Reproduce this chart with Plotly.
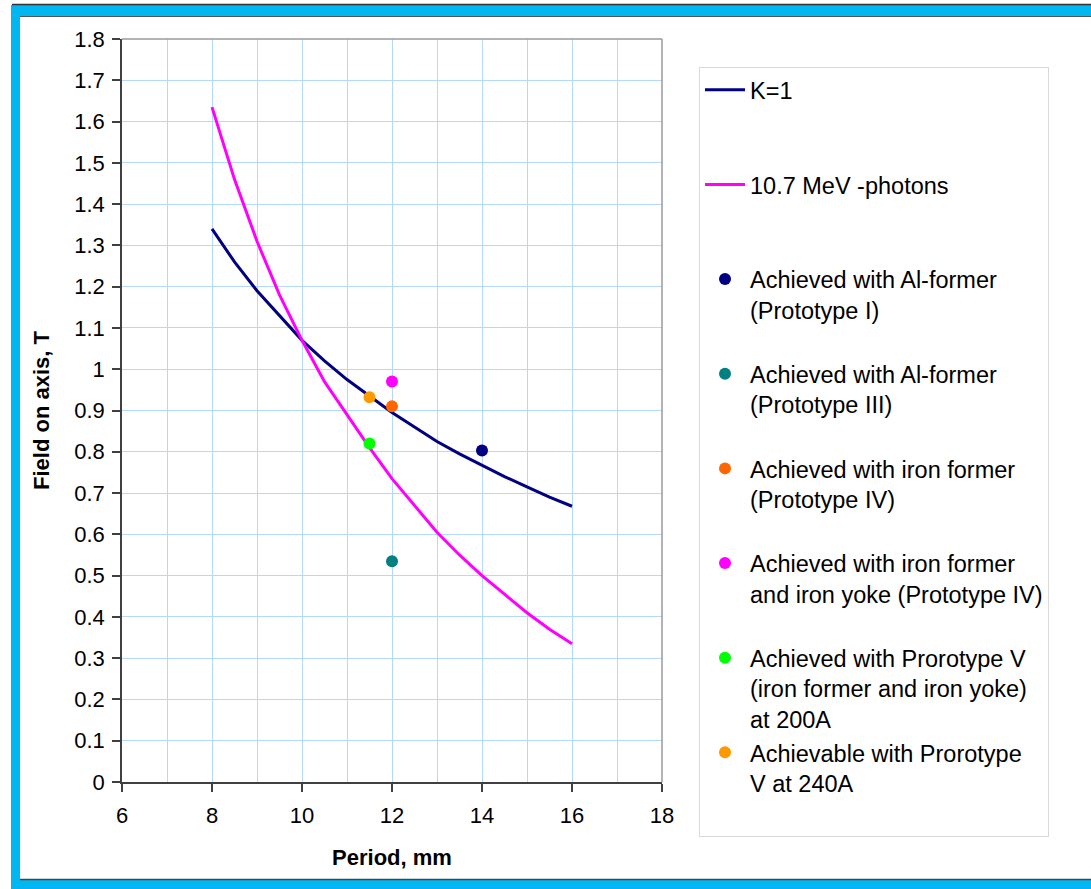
import plotly.graph_objects as go

# ---- data ----
period_curve = [8, 8.5, 9, 9.5, 10, 10.5, 11, 11.5, 12, 12.5, 13, 13.5, 14, 14.5, 15, 15.5, 16]
k1_field = [1.34, 1.26, 1.19, 1.13, 1.07, 1.02, 0.975, 0.935, 0.895, 0.86, 0.825, 0.795, 0.767, 0.74, 0.715, 0.69, 0.668]
photon_field = [1.635, 1.46, 1.31, 1.18, 1.07, 0.97, 0.89, 0.81, 0.735, 0.67, 0.605, 0.55, 0.50, 0.455, 0.41, 0.37, 0.335]

point_names = [
    "Achieved with Al-former<br>(Prototype I)",
    "Achieved with Al-former<br>(Prototype III)",
    "Achieved with iron former<br>(Prototype IV)",
    "Achieved with iron former<br>and iron yoke (Prototype IV)",
    "Achieved with Prorotype V<br>(iron former and iron yoke)<br>at 200A",
    "Achievable with Prorotype<br>V at 240A",
]
point_period = [14, 12, 12, 12, 11.5, 11.5]
point_field = [0.803, 0.535, 0.91, 0.97, 0.82, 0.932]
point_colors = ["#000080", "#008080", "#FF6600", "#FF00FF", "#00FF00", "#FF9900"]

x_ticks = [6, 8, 10, 12, 14, 16, 18]

FONT = "Liberation Sans, Arial, Helvetica, sans-serif"
FS = 22
LEG_FS = 23.5


def pad(name, lines=3):
    n = name.count("<br>") + 1
    return name + "<br> " * (lines - n)


fig = go.Figure()
fig.add_trace(go.Scatter(x=period_curve, y=k1_field, mode="lines", name=pad("K=1"),
                         line=dict(color="#000080", width=3)))
fig.add_trace(go.Scatter(x=period_curve, y=photon_field, mode="lines", name=pad("10.7 MeV -photons"),
                         line=dict(color="#FF00FF", width=3)))
for nm, px, py, c in zip(point_names, point_period, point_field, point_colors):
    fig.add_trace(go.Scatter(x=[px], y=[py], mode="markers", name=pad(nm),
                             marker=dict(color=c, size=12, line=dict(width=0))))

# plot area in pixels: x 122..662, y 39..782
L, R, T, B = 122, 662, 39, 782
W, H = 1091, 889


def xp(px):
    return (px - L) / (R - L)


def yp(py):
    return (B - py) / (B - T)


CYAN = "#00B7F1"
shapes = [
    # cyan window frame
    dict(type="rect", xref="paper", yref="paper", x0=xp(12), x1=xp(W + 5), y0=yp(5), y1=yp(16),
         fillcolor=CYAN, line=dict(width=0), layer="above"),
    dict(type="rect", xref="paper", yref="paper", x0=xp(11), x1=xp(20), y0=yp(5), y1=yp(H + 5),
         fillcolor=CYAN, line=dict(width=0), layer="above"),
    dict(type="rect", xref="paper", yref="paper", x0=xp(11), x1=xp(W + 5), y0=yp(880), y1=yp(H + 5),
         fillcolor=CYAN, line=dict(width=0), layer="above"),
    dict(type="line", xref="paper", yref="paper", x0=xp(12), x1=xp(W + 5), y0=yp(4.5), y1=yp(4.5),
         line=dict(color="#333333", width=1.5), layer="above"),
    dict(type="line", xref="paper", yref="paper", x0=xp(20), x1=xp(W + 5), y0=yp(16.5), y1=yp(16.5),
         line=dict(color="#555555", width=1), layer="above"),
    dict(type="line", xref="paper", yref="paper", x0=xp(20), x1=xp(W + 5), y0=yp(879.5), y1=yp(879.5),
         line=dict(color="#444444", width=1.5), layer="above"),
    # plot-area top/right border
    dict(type="line", xref="paper", yref="paper", x0=0, x1=1, y0=1, y1=1,
         line=dict(color="#9A9A9A", width=1.5), layer="above"),
    dict(type="line", xref="paper", yref="paper", x0=1, x1=1, y0=0, y1=1,
         line=dict(color="#9A9A9A", width=1.5), layer="above"),
]

GRID = "#B5D8FF"
fig.update_layout(
    width=W, height=H, autosize=False,
    margin=dict(l=L, r=W - R, t=T, b=H - B, pad=0),
    paper_bgcolor="white", plot_bgcolor="white",
    font=dict(family=FONT, size=FS, color="#000000"),
    showlegend=True,
    legend=dict(
        x=xp(699), y=yp(67), xanchor="left", yanchor="top",
        bgcolor="white", bordercolor="#D9D9D9", borderwidth=1,
        font=dict(family=FONT, size=LEG_FS, color="#000000"),
        valign="top", itemwidth=40, tracegroupgap=0, maxheight=820,
    ),
    xaxis=dict(
        range=[6, 18], tickvals=x_ticks, ticktext=[str(v) for v in x_ticks],
        showgrid=True, gridcolor=GRID, gridwidth=1,
        minor=dict(dtick=1, showgrid=True, gridcolor=GRID, gridwidth=1, ticks=""),
        showline=True, linecolor="#404040", linewidth=1.5,
        ticks="outside", ticklen=8, tickcolor="#404040", tickwidth=1.5,
        ticklabelstandoff=5,
        zeroline=False, tickfont=dict(size=FS),
        title=dict(text="Period, mm", font=dict(size=FS, weight="bold"), standoff=22),
    ),
    yaxis=dict(
        range=[0, 1.8], dtick=0.1, tick0=0,
        showgrid=True, gridcolor=GRID, gridwidth=1,
        showline=True, linecolor="#404040", linewidth=1.5,
        ticks="outside", ticklen=8, tickcolor="#404040", tickwidth=1.5,
        ticklabelstandoff=3,
        zeroline=False, tickfont=dict(size=FS),
        title=dict(text="Field on axis, T", font=dict(size=FS, weight="bold"), standoff=19),
    ),
    shapes=shapes,
)

fig.write_html("out.html", config={"displayModeBar": False},
               post_script="document.body.style.margin='0';")
